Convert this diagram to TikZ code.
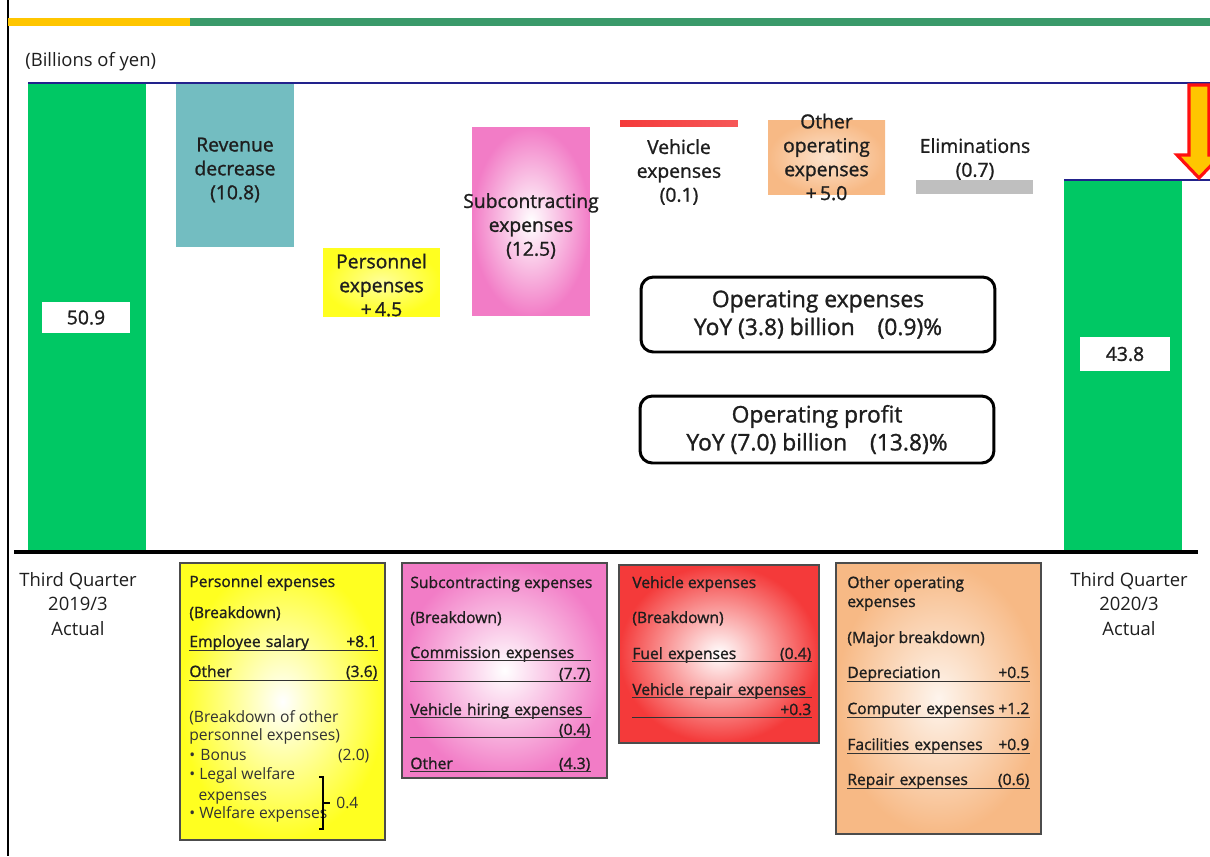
\documentclass[tikz,border=0pt]{standalone}
\usepackage{fontspec}
\setmainfont{Open Sans}[FakeBold=1.2]
\newfontfamily\lightfont{Open Sans}
\usepackage{xcolor}
\usetikzlibrary{positioning, calc}
\definecolor{qGreen}{HTML}{00C864}
\definecolor{revTeal}{HTML}{73BDC1}
\definecolor{persYellow}{HTML}{FFFF20}
\definecolor{subPink}{HTML}{F27CC6}
\definecolor{vehRed}{HTML}{F43A3A}
\definecolor{othPeach}{HTML}{F7B985}
\definecolor{elimGray}{HTML}{BFBFBF}
\definecolor{stripGold}{HTML}{FFC600}
\definecolor{stripGreen}{HTML}{3A9A6A}
\definecolor{lineNavy}{HTML}{22228C}
\definecolor{arrowRed}{HTML}{FF1010}
\definecolor{inkDark}{HTML}{1E1E1E}

\begin{document}
\begin{tikzpicture}[x=0.02cm, y=-0.02cm,
        font=\fontsize{11}{13.6}\selectfont, text=inkDark,
        bar/.style={rectangle, inner sep=0pt, outer sep=0pt},
        valbox/.style={rectangle, fill=white, inner sep=0pt, font=\fontsize{11}{13.6}\selectfont},
        barlbl/.style={align=center, inner sep=0pt},
        yoy/.style={rectangle, rounded corners=7pt, draw=black, line width=1.7pt, fill=white, align=center, inner sep=0pt, font=\fontsize{13}{15.9}\selectfont},
        detail/.style={rectangle, draw=black!70, line width=0.8pt, inner sep=0pt},
        brow/.style={anchor=base west, inner sep=0pt, align=left, font=\fontsize{8.9}{11.3}\selectfont},
        lrow/.style={brow, text=black!80, font=\lightfont\fontsize{8.9}{11.3}\selectfont},
        uline/.style={line width=0.6pt, draw=black!80},
        refline/.style={line width=0.8pt, draw=lineNavy},
        zeroline/.style={line width=2.4pt, draw=black},
        quarter/.style={align=center, inner sep=0pt, font=\lightfont\fontsize{10.5}{13.8}\selectfont}
    ]
    \useasboundingbox (0,0) rectangle (1210,856);

    % --- Frame and header strip ---
    \draw[line width=1.1pt] (8,0) -- (8,856);
    \fill[stripGold] (8,18) rectangle (190,26);
    \fill[stripGreen] (190,18) rectangle (1210,26);
    \node[anchor=west, inner sep=0pt, font=\lightfont\fontsize{10.5}{13}\selectfont] (unit) at (25,62) {(Billions of yen)};

    % --- Start and end totals ---
    \node[bar, fill=qGreen, minimum width=2.36cm, minimum height=9.38cm] (q19) at (87,317.5) {};
    \node[valbox, minimum width=1.76cm, minimum height=0.62cm] (v19) at (86,317.5) {50.9};
    \node[bar, fill=qGreen, minimum width=2.36cm, minimum height=7.44cm] (q20) at (1123,366) {};
    \node[valbox, minimum width=1.8cm, minimum height=0.68cm] (v20) at (1125,354) {43.8};

    \coordinate (edge) at (1210,0);
    \draw[refline] (q19.north west) -- (q19.north west -| edge);
    \draw[refline] (q20.north west) -- (q20.north west -| edge);
    \coordinate (axL) at (14,552);
    \coordinate (axR) at (1198,552);
    \draw[zeroline] (axL) -- (axR);

    % --- Bridge bars ---
    \node[bar, fill=revTeal, minimum width=2.36cm, minimum height=3.26cm] (rev) at (235,165.5) {};
    \node[barlbl] (revl) at (235,170) {Revenue\\decrease\\(10.8)};
    \node[bar, shading=radial, inner color=persYellow!45, outer color=persYellow, minimum width=2.34cm, minimum height=1.36cm] (pers) at (381.5,282) {};
    \node[barlbl] (persl) at (381.5,285) {Personnel\\expenses\\+\,4.5};
    \node[bar, shading=radial, inner color=white, outer color=subPink, minimum width=2.36cm, minimum height=3.78cm] (sub) at (531,221.5) {};
    \node[barlbl] (subl) at (531,226) {Subcontracting\\expenses\\(12.5)};
    \node[bar, left color=vehRed, middle color=vehRed!25, right color=vehRed!85, minimum width=2.36cm, minimum height=0.12cm] (veh) at (679,123) {};
    \node[barlbl] (vehl) at (679,172) {Vehicle\\expenses\\(0.1)};
    \node[bar, shading=radial, inner color=othPeach!40, outer color=othPeach, minimum width=2.34cm, minimum height=1.5cm] (oth) at (826.5,157.5) {};
    \node[barlbl] (othl) at (826.5,157) {Other\\operating\\expenses\\+\,5.0};
    \node[bar, fill=elimGray, minimum width=2.34cm, minimum height=0.28cm] (elim) at (974.5,187) {};
    \node[barlbl] (eliml) at (975,159) {Eliminations\\(0.7)};

    % --- Drop arrow ---
    \draw[line width=1.8pt, draw=arrowRed, fill=stripGold] (1189,85) -- (1209,85) -- (1209,155) -- (1221,155) -- (1199,178) -- (1177,155) -- (1189,155) -- cycle;

    % --- YoY summaries ---
    \node[yoy, minimum width=7.08cm, minimum height=1.5cm] (opx) at (818,314.5) {Operating expenses\\YoY (3.8) billion\quad(0.9)\%};
    \node[yoy, minimum width=7.08cm, minimum height=1.34cm] (opp) at (817,429.5) {Operating profit\\YoY (7.0) billion\quad(13.8)\%};

    % --- Period labels ---
    \node[quarter] (p19) at (78,604) {Third Quarter\\2019/3\\Actual};
    \node[quarter] (p20) at (1129,604) {Third Quarter\\2020/3\\Actual};

    % --- Breakdown: personnel ---
    \node[detail, shading=radial, inner color=white, outer color=persYellow, minimum width=4.1cm, minimum height=5.54cm] (bpers) at (282.5,701.5) {};
    \node[brow] (pr1) at (189,587) {Personnel expenses};
    \node[brow] (pr2) at (189,618) {(Breakdown)};
    \node[brow, text width=3.76cm] (pr3) at (189,647) {Employee salary\hfill+8.1};
    \node[brow, text width=3.76cm] (pr4) at (189,677) {Other\hfill(3.6)};
    \node[lrow] (pr5) at (189,722) {(Breakdown of other};
    \node[lrow] (pr6) at (189,740) {personnel expenses)};
    \node[lrow, text width=3.6cm] (pr7) at (189,760) {\textbullet\ Bonus\hfill(2.0)};
    \node[lrow] (pr8) at (189,779) {\textbullet\ Legal welfare};
    \node[lrow] (pr9) at (189,800) {\hspace*{0.6em}expenses};
    \node[lrow] (pr10) at (189,818) {\textbullet\ Welfare expenses};
    \node[lrow, anchor=west] (pr11) at (336,803) {0.4};
    \draw[line width=0.6pt] (319,777) -- (323,777) -- (323,829) -- (319,829);
    \draw[line width=0.6pt] (323,803) -- (330,803);
    \draw[uline] ([yshift=-2pt]pr3.base west) -- ([yshift=-2pt]pr3.base east);
    \draw[uline] ([yshift=-2pt]pr4.base west) -- ([yshift=-2pt]pr4.base east);

    % --- Breakdown: subcontracting ---
    \node[detail, shading=radial, inner color=white, outer color=subPink, minimum width=4.1cm, minimum height=4.3cm] (bsub) at (504.5,670.5) {};
    \node[brow] (sr1) at (410,588) {Subcontracting expenses};
    \node[brow] (sr2) at (410,623) {(Breakdown)};
    \node[brow, text width=3.6cm] (sr3) at (410,658) {Commission expenses};
    \node[brow, text width=3.6cm] (sr4) at (410,679) {\hfill(7.7)};
    \node[brow, text width=3.6cm] (sr5) at (410,715) {Vehicle hiring expenses};
    \node[brow, text width=3.6cm] (sr6) at (410,735) {\hfill(0.4)};
    \node[brow, text width=3.6cm] (sr7) at (410,769) {Other\hfill(4.3)};
    \draw[uline] ([yshift=-1.6pt]sr3.base west) -- ([yshift=-1.6pt]sr3.base east);
    \draw[uline] ([yshift=-1.6pt]sr4.base west) -- ([yshift=-1.6pt]sr4.base east);
    \draw[uline] ([yshift=-1.6pt]sr5.base west) -- ([yshift=-1.6pt]sr5.base east);
    \draw[uline] ([yshift=-1.6pt]sr6.base west) -- ([yshift=-1.6pt]sr6.base east);
    \draw[uline] ([yshift=-1.6pt]sr7.base west) -- ([yshift=-1.6pt]sr7.base east);

    % --- Breakdown: vehicle ---
    \node[detail, shading=radial, inner color=white, outer color=vehRed, minimum width=4.0cm, minimum height=3.56cm] (bveh) at (719,654) {};
    \node[brow] (vr1) at (632,588) {Vehicle expenses};
    \node[brow] (vr2) at (632,623) {(Breakdown)};
    \node[brow, text width=3.58cm] (vr3) at (632,659) {Fuel expenses\hfill(0.4)};
    \node[brow, text width=3.58cm] (vr4) at (632,695) {\hbox to\hsize{Vehicle repair expenses\hss}};
    \node[brow, text width=3.58cm] (vr5) at (632,715) {\hfill+0.3};
    \draw[uline] ([yshift=-1.6pt]vr3.base west) -- ([yshift=-1.6pt]vr3.base east);
    \draw[uline] ([yshift=-1.6pt]vr4.base west) -- ([yshift=-1.6pt]vr4.base east);
    \draw[uline] ([yshift=-1.6pt]vr5.base west) -- ([yshift=-1.6pt]vr5.base east);

    % --- Breakdown: other operating ---
    \node[detail, shading=radial, inner color=othPeach!15, outer color=othPeach, minimum width=4.1cm, minimum height=5.42cm] (both) at (938.5,698.5) {};
    \node[brow] (or1) at (847,588) {Other operating};
    \node[brow] (or2) at (847,607) {expenses};
    \node[brow] (or3) at (847,643) {(Major breakdown)};
    \node[brow, text width=3.64cm] (or4) at (847,678) {Depreciation\hfill+0.5};
    \node[brow, text width=3.64cm] (or5) at (847,714) {\hbox to\hsize{Computer expenses\hfill+1.2}};
    \node[brow, text width=3.64cm] (or6) at (847,750) {Facilities expenses\hfill+0.9};
    \node[brow, text width=3.64cm] (or7) at (847,785) {Repair expenses\hfill(0.6)};
    \draw[uline] ([yshift=-1.8pt]or4.base west) -- ([yshift=-1.8pt]or4.base east);
    \draw[uline] ([yshift=-1.8pt]or5.base west) -- ([yshift=-1.8pt]or5.base east);
    \draw[uline] ([yshift=-1.8pt]or6.base west) -- ([yshift=-1.8pt]or6.base east);
    \draw[uline] ([yshift=-1.8pt]or7.base west) -- ([yshift=-1.8pt]or7.base east);
\end{tikzpicture}
\end{document}
